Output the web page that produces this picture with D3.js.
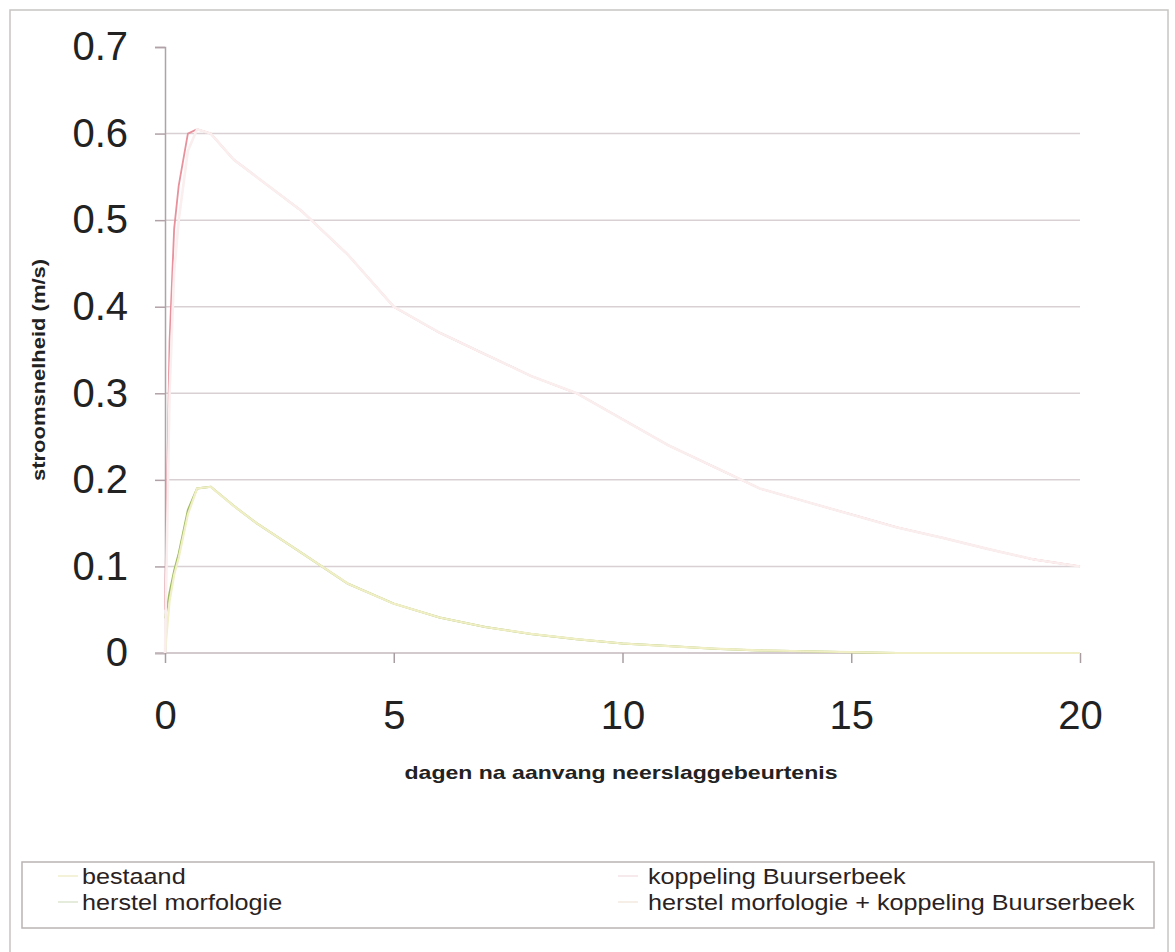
<!DOCTYPE html>
<html>
<head>
<meta charset="utf-8">
<script src="https://cdn.jsdelivr.net/npm/d3@7"></script>
<style>
  html, body { margin: 0; padding: 0; background: #ffffff; }
  svg { display: block; font-family: "Liberation Sans", Arial, sans-serif; }
</style>
</head>
<body>
<svg id="chart" width="1175" height="952"></svg>
<script>
// ---- data ----
const days = [0, 0.1, 0.2, 0.3, 0.5, 0.7, 1, 1.5, 2, 3, 4, 5, 6, 7, 8, 9, 10, 11, 12, 13, 14, 15, 16, 17, 18, 19, 20];
const bestaand = [0, 0.06, 0.09, 0.11, 0.16, 0.19, 0.192, 0.17, 0.15, 0.115, 0.08, 0.057, 0.041, 0.03, 0.022, 0.016, 0.011, 0.008, 0.005, 0.003, 0.002, 0.001, 0, 0, 0, 0, 0];
const herstelMorfologie = [0.04, 0.07, 0.095, 0.115, 0.165, 0.19, 0.192, 0.17, 0.15, 0.115, 0.08, 0.057, 0.041, 0.03, 0.022, 0.016, 0.011, 0.008, 0.005, 0.003, 0.002, 0.001, 0, 0, 0, 0, 0];
const koppeling = [0, 0.30, 0.44, 0.50, 0.58, 0.605, 0.60, 0.57, 0.55, 0.51, 0.46, 0.40, 0.37, 0.345, 0.32, 0.30, 0.27, 0.24, 0.215, 0.19, 0.175, 0.16, 0.145, 0.133, 0.12, 0.108, 0.10];
const herstelKoppeling = [0.05, 0.36, 0.49, 0.54, 0.60, 0.605, 0.60, 0.57, 0.55, 0.51, 0.46, 0.40, 0.37, 0.345, 0.32, 0.30, 0.27, 0.24, 0.215, 0.19, 0.175, 0.16, 0.145, 0.133, 0.12, 0.108, 0.10];
const yTicks = [0, 0.1, 0.2, 0.3, 0.4, 0.5, 0.6, 0.7];
const xTicks = [0, 5, 10, 15, 20];
const seriesNames = ["bestaand", "herstel morfologie", "koppeling Buurserbeek", "herstel morfologie + koppeling Buurserbeek"];
const xTitle = "dagen na aanvang neerslaggebeurtenis";
const yTitle = "stroomsnelheid (m/s)";

// ---- layout ----
const svg = d3.select("#chart");
const x = d3.scaleLinear().domain([0, 20]).range([165, 1080]);
const y = d3.scaleLinear().domain([0, 0.7]).range([653, 47]);

// outer frame
svg.append("rect").attr("x", 10).attr("y", 10).attr("width", 1158).attr("height", 950)
  .attr("fill", "none").attr("stroke", "#c8c4c4").attr("stroke-width", 1.5);

// gridlines
svg.append("g").selectAll("line").data(yTicks.filter(v => v > 0 && v < 0.7)).join("line")
  .attr("x1", 165).attr("x2", 1080).attr("y1", d => y(d)).attr("y2", d => y(d))
  .attr("stroke", "#d9d0d3").attr("stroke-width", 1.5);

// y axis
const yAxis = d3.axisLeft(y).tickValues(yTicks).tickSize(10).tickFormat(d3.format(".1~f")).tickPadding(27);
const gy = svg.append("g").attr("transform", "translate(165,0)").call(yAxis);
gy.select(".domain").attr("stroke", "#b0a2a8").attr("stroke-width", 1.5);
gy.selectAll(".tick line").attr("stroke", "#b0a2a8").attr("stroke-width", 1.5);
gy.selectAll(".tick text").attr("font-size", 40).attr("fill", "#222")
  .attr("font-family", "'Liberation Sans', Arial, sans-serif");

// x axis
const xAxis = d3.axisBottom(x).tickValues(xTicks).tickSize(10).tickSizeOuter(0).tickPadding(38);
const gx = svg.append("g").attr("transform", "translate(0,653)").call(xAxis);
gx.select(".domain").attr("stroke", "#c4b8bc").attr("stroke-width", 1.5).attr("d", "M155,0H1080");
gx.selectAll(".tick line").attr("stroke", "#a89ea2").attr("stroke-width", 1.5);
gx.selectAll(".tick text").attr("font-size", 40).attr("fill", "#222")
  .attr("font-family", "'Liberation Sans', Arial, sans-serif");

// axis titles
svg.append("text").attr("x", 621).attr("y", 779).attr("text-anchor", "middle")
  .attr("font-size", 19).attr("font-weight", "bold").attr("fill", "#222")
  .attr("textLength", 433).attr("lengthAdjust", "spacingAndGlyphs").text(xTitle);
svg.append("text").attr("transform", "translate(45,370) rotate(-90)").attr("text-anchor", "middle")
  .attr("font-size", 18).attr("font-weight", "bold").attr("fill", "#222")
  .attr("textLength", 222).attr("lengthAdjust", "spacingAndGlyphs").text(yTitle);

// series lines (pale decay drawn over the red rise where they coincide)
const series = [
  { name: seriesNames[1], values: herstelMorfologie, color: "#9fba62", width: 2 },
  { name: seriesNames[0], values: bestaand, color: "#f0efc6", width: 2.2 },
  { name: seriesNames[3], values: herstelKoppeling, color: "#e8909c", width: 1.8 },
  { name: seriesNames[2], values: koppeling, color: "#faeeee", width: 2.6 }
];
const line = d3.line().x((d, i) => x(days[i])).y(d => y(d));
svg.append("g").selectAll("path").data(series).join("path")
  .attr("d", d => line(d.values))
  .attr("fill", "none").attr("stroke", d => d.color).attr("stroke-width", d => d.width);

// legend
svg.append("rect").attr("x", 22).attr("y", 862).attr("width", 1132).attr("height", 66)
  .attr("fill", "none").attr("stroke", "#bab4b4").attr("stroke-width", 1.5);
const legendItems = [
  { name: seriesNames[0], color: "#f4f2d8", lx: 40, tx: 82, ty: 884 },
  { name: seriesNames[1], color: "#e6ecdc", lx: 40, tx: 82, ty: 910 },
  { name: seriesNames[2], color: "#f6eaec", lx: 600, tx: 648, ty: 884 },
  { name: seriesNames[3], color: "#f6efe8", lx: 600, tx: 648, ty: 910 }
];
const lg = svg.append("g").selectAll("g").data(legendItems).join("g");
lg.append("line").attr("x1", d => d.lx + 18).attr("x2", d => d.lx + 38)
  .attr("y1", d => d.ty - 8).attr("y2", d => d.ty - 8)
  .attr("stroke", d => d.color).attr("stroke-width", 2);
lg.append("text").attr("transform", d => `translate(${d.tx},${d.ty}) scale(1.12,1)`)
  .attr("font-size", 22.5).attr("fill", "#2a2222").text(d => d.name);
</script>
</body>
</html>
